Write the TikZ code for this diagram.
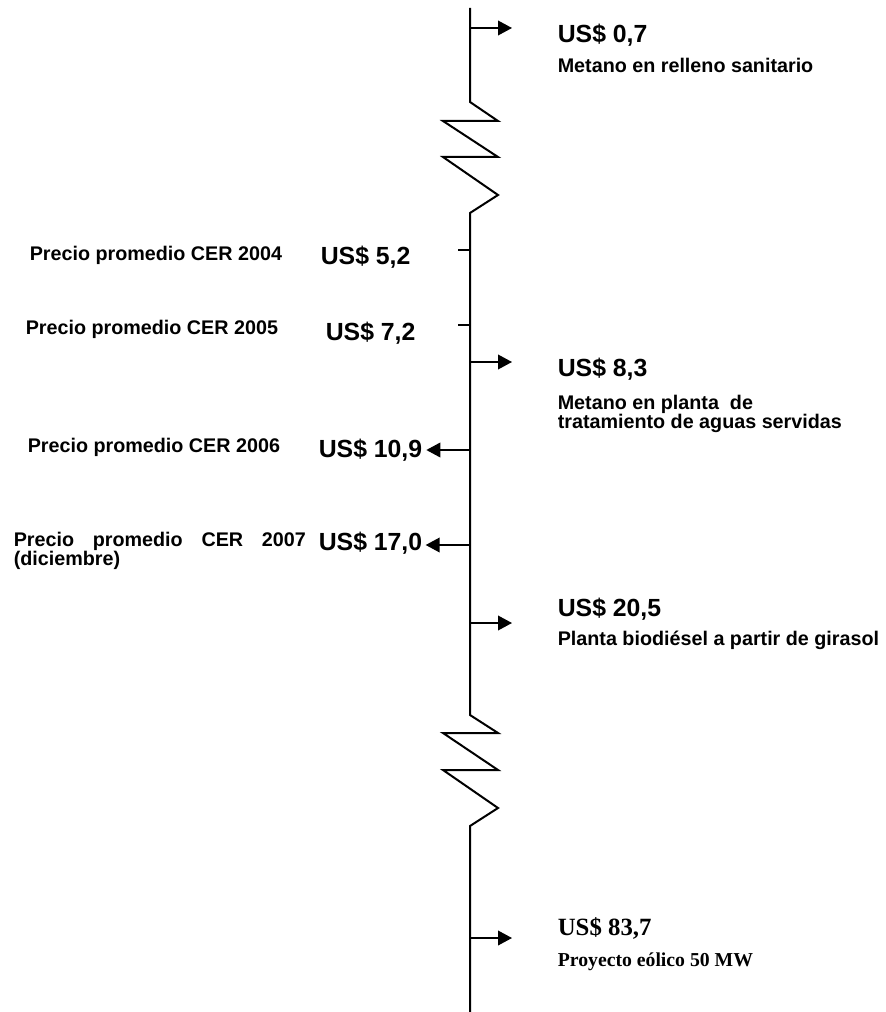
\documentclass[tikz,border=0pt]{standalone}
\usepackage{fontspec}
\setmainfont{Liberation Sans}
\newfontfamily\timesfont{Liberation Serif}
\usepackage{tikz}
\usetikzlibrary{arrows.meta}
\usetikzlibrary{positioning}

\begin{document}
\begin{tikzpicture}[x=0.75pt,y=-0.75pt,line width=1.2pt]
\tikzset{
    price/.style   = {anchor=base west, inner sep=0pt, font=\bfseries\fontsize{18.6}{22}\selectfont},
    project/.style = {anchor=base west, inner sep=0pt, align=left, font=\bfseries\fontsize{14.8}{13.9}\selectfont},
    cer/.style     = {anchor=base west, inner sep=0pt, align=left, font=\bfseries\fontsize{14.8}{14.2}\selectfont},
    roman/.style   = {font=\timesfont\bfseries\fontsize{18.6}{22}\selectfont},
    pointer/.style = {-{Triangle[length=10.5pt,width=11pt]}}
}
\useasboundingbox (0,0) rectangle (885,1012);

% axis with the two breaks
\draw[line width=1.5pt] (470,8) -- (470,102) -- (498,121) -- (443,121) -- (498,157) -- (443,157)
   -- (498,195) -- (470,213) -- (470,715) -- (498,733) -- (443,733) -- (498,770) -- (443,770)
   -- (498,808) -- (470,826) -- (470,1012);

% projects, right side
\node [price] (p07) at (557,43) {US\$ 0,7};
\node [project] (relleno) at (557,73) {Metano en relleno sanitario};
\node [price] (p83) at (557,376) {US\$ 8,3};
% base of a two-line node = its last line
\node [project] (aguas) at (557,428) {Metano en planta\ \ de\\tratamiento de aguas servidas};
\node [price] (p205) at (557,616) {US\$ 20,5};
\node [project] (girasol) at (557,645) {Planta biodiésel a partir de girasol};
\node [price, roman] (p837) at (557,935) {US\$ 83,7};
\node [project, font=\timesfont\bfseries\fontsize{14.8}{13.9}\selectfont] (eolico) at (557,966) {Proyecto eólico 50 MW};

% CER prices, left side
\node [cer] (cer04) at (29,261) {Precio promedio CER 2004};
\node [price] (p52) at (320,265) {US\$ 5,2};
\node [cer] (cer05) at (25,334) {Precio promedio CER 2005};
\node [price] (p72) at (325,340) {US\$ 7,2};
\node [cer] (cer06) at (27,452) {Precio promedio CER 2006};
\node [price] (p109) at (318,457) {US\$ 10,9};
\node [cer] (cer07) at (13,565) {\makebox[219pt][s]{Precio promedio CER 2007}\\(diciembre)};
\node [price] (p170) at (318,550) {US\$ 17,0};

% points on the axis
\coordinate (a07) at (470,28);
\coordinate (a83) at (470,362);
\coordinate (a205) at (470,623);
\coordinate (a837) at (470,938);
\coordinate (a52) at (470,250);
\coordinate (a72) at (470,325);
\coordinate (a109) at (470,450);
\coordinate (a170) at (470,545);

\draw[pointer] (a07) -- ++(42,0);
\draw[pointer] (a83) -- ++(42,0);
\draw[pointer] (a205) -- ++(42,0);
\draw[pointer] (a837) -- ++(42,0);
\draw (a52) -- ++(-12,0);
\draw (a72) -- ++(-12,0);
\draw[pointer, shorten >=2.5pt] (a109) -- (a109 -| p109.east);
\draw[pointer, shorten >=2pt] (a170) -- (a170 -| p170.east);
\end{tikzpicture}
\end{document}
